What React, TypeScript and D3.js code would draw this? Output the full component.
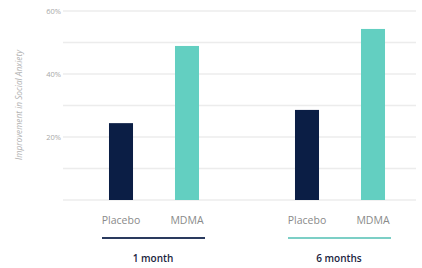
import { useEffect, useRef } from "react";
import * as d3 from "d3";

const groups = ["1 month", "6 months"];
const treatments = ["Placebo", "MDMA"];
const placeboValues = [0.244, 0.286];
const mdmaValues = [0.489, 0.543];
const tickLabels = ["20%", "40%", "60%"];

const NAVY = "#0b1e45";
const TEAL = "#63cfc1";
const FONT = "'Open Sans', sans-serif";

export default function App() {
  const svgRef = useRef<SVGSVGElement>(null);

  useEffect(() => {
    const svg = d3.select(svgRef.current);
    svg.selectAll("*").remove();

    const left = 63;
    const right = 416;

    const y = d3.scaleLinear().domain([0, 0.6]).range([200, 11]);
    const x0 = d3.scaleBand().domain(groups).range([61, 433]);
    const x1 = d3
      .scaleBand()
      .domain(treatments)
      .range([27, 159])
      .paddingInner(0.636)
      .paddingOuter(0.318);
    const color = d3.scaleOrdinal<string>().domain(treatments).range([NAVY, TEAL]);

    // gridlines every 10%
    svg
      .append("g")
      .selectAll("line")
      .data(d3.range(0, 7).map((i) => i / 10))
      .enter()
      .append("line")
      .attr("x1", left)
      .attr("x2", right)
      .attr("y1", (d) => y(d))
      .attr("y2", (d) => y(d))
      .attr("stroke", "#ececec")
      .attr("stroke-width", 1.5);

    // tick labels
    svg
      .append("g")
      .selectAll("text")
      .data(tickLabels)
      .enter()
      .append("text")
      .attr("x", 61)
      .attr("y", (d) => y(parseFloat(d) / 100))
      .attr("dy", "0.35em")
      .attr("text-anchor", "end")
      .attr("font-family", FONT)
      .attr("font-size", 7.5)
      .attr("fill", "#a8a8a8")
      .text((d) => d);

    // y title
    svg
      .append("text")
      .attr("transform", "translate(22,105) rotate(-90)")
      .attr("text-anchor", "middle")
      .attr("font-family", FONT)
      .attr("font-style", "italic")
      .attr("font-size", 8.3)
      .attr("fill", "#b0b0b0")
      .text("Improvement in Social Anxiety");

    const rows = groups.map((g, i) => ({
      group: g,
      values: [
        { key: "Placebo", value: placeboValues[i] },
        { key: "MDMA", value: mdmaValues[i] },
      ],
    }));

    const gs = svg
      .append("g")
      .selectAll("g")
      .data(rows)
      .enter()
      .append("g")
      .attr("transform", (d) => `translate(${x0(d.group)},0)`);

    gs.selectAll("rect")
      .data((d) => d.values)
      .enter()
      .append("rect")
      .attr("x", (d) => x1(d.key)!)
      .attr("width", x1.bandwidth())
      .attr("y", (d) => y(d.value))
      .attr("height", (d) => y(0) - y(d.value))
      .attr("fill", (d) => color(d.key));

    gs.selectAll("text.cat")
      .data((d) => d.values)
      .enter()
      .append("text")
      .attr("class", "cat")
      .attr("x", (d) => x1(d.key)! + x1.bandwidth() / 2)
      .attr("y", 220)
      .attr("dy", "0.35em")
      .attr("text-anchor", "middle")
      .attr("font-family", FONT)
      .attr("font-size", 10.5)
      .attr("fill", "#8a8a8a")
      .text((d) => d.key);

    // group underline
    gs.append("line")
      .attr("x1", 41)
      .attr("x2", 144)
      .attr("y1", 238)
      .attr("y2", 238)
      .attr("stroke", (d, i) => (i === 0 ? "#2a3a5e" : "#7ccfc6"))
      .attr("stroke-width", 2);

    gs.append("text")
      .attr("x", x0.bandwidth() / 2 - 1)
      .attr("y", 258)
      .attr("dy", "0.35em")
      .attr("text-anchor", "middle")
      .attr("font-family", FONT)
      .attr("font-weight", 600)
      .attr("font-size", 10)
      .attr("fill", "#1b2440")
      .text((d) => d.group);
  }, []);

  return (
    <div style={{ position: "fixed", left: 0, top: 0, background: "#fff" }}>
      <svg ref={svgRef} width={422} height={268} style={{ display: "block" }} />
    </div>
  );
}
